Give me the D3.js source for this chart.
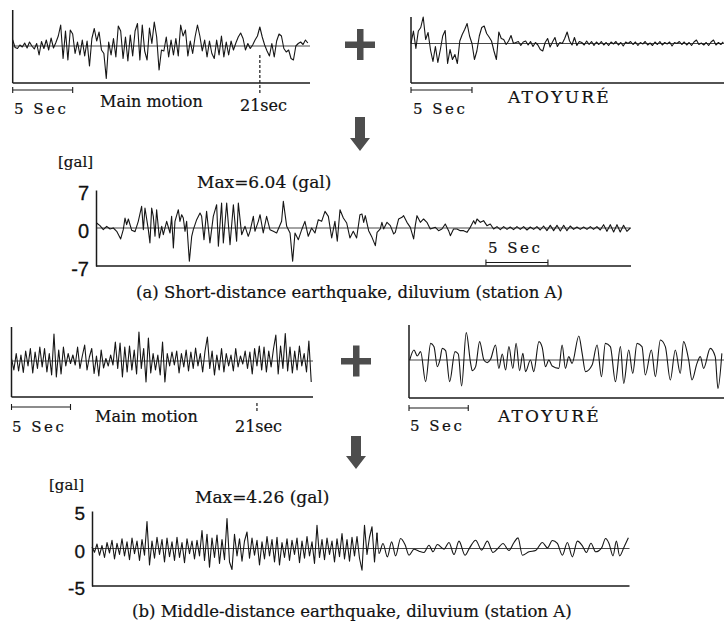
<!DOCTYPE html>
<html>
<head>
<meta charset="utf-8">
<script src="https://cdn.jsdelivr.net/npm/d3@7"></script>
<style>
  body { margin: 0; background: #fff; }
  text { font-family: "DejaVu Serif", serif; fill: #111; stroke: #111; stroke-width: 0.2; }
  .num { font-family: "Liberation Sans", Arial, sans-serif; stroke-width: 0.3; }
</style>
</head>
<body>
<div id="chart"></div>
<script>
var width = 724,
    height = 622;

// ---- data ----
// input records, sampled every 0.2 s (relative amplitude)
var sampleDt = 0.2;
var mainA = [1.2,-0.3,-0.5,0.2,-0.2,0.6,-0.4,0.8,0.0,-0.6,0.5,-1.8,0.9,-0.5,1.2,-0.8,1.6,-0.4,0.7,2.0,
  4.2,-2.5,3.0,-2.8,3.2,2.4,-1.5,0.8,-1.8,1.2,-2.0,1.0,-4.0,1.5,3.5,1.0,2.8,-0.8,-1.5,-6.5,
  0.8,-1.8,1.5,-2.2,4.0,3.0,-2.5,1.8,-3.0,2.2,-2.0,3.0,4.5,-2.8,4.2,-1.0,-2.8,3.6,0.5,4.8,
  1.8,-4.8,-0.8,-1.0,1.8,-2.2,1.2,-1.8,1.5,-2.0,4.2,2.0,3.2,-2.0,1.0,-1.5,1.8,4.2,2.0,-1.0,
  1.2,-2.2,1.0,-1.5,-2.5,1.2,-1.8,2.0,-2.2,0.8,-1.8,1.0,-0.8,0.6,1.8,2.6,1.5,-0.8,0.5,-0.5,
  0.2,1.2,2.0,3.8,1.8,0.2,-1.0,-2.0,0.5,-2.2,1.0,2.4,2.0,-0.5,-1.2,-0.8,-2.5,-2.8,0.0,0.5,
  0.8,0.3,1.2,0.6];
var atoyureA = [0,2.5,-1.0,2.5,3.2,5.3,0.8,2.2,-1.3,-3.6,-0.6,-3.8,-1.3,1.5,2.6,-4.0,-1.2,-3.2,-2.2,-4.0,
  0.5,1.8,2.8,4.0,1.5,0.0,-3.2,-1.5,1.5,3.2,3.5,2.0,1.3,0.5,-1.5,-3.2,2.3,1.0,0.8,-0.2,
  0.5,1.6,0.0,0.2,0.4,-0.4,0.3,0.5,-0.3,0.4,-0.6,0.2,-0.3,-1.2,-1.5,0.2,1.0,-0.7,0.3,1.2,
  -0.6,0.2,0.0,1.0,2.3,0.5,-0.3,1.2,-0.4,0.4,0.2,-0.3,0.5,-0.2,0.4,-0.4,0.3,-0.2,0.4,-0.3,
  0.2,-0.4,0.3,-0.1,0.4,-0.3,0.2,-0.5,0.3,0.0,0.4,-0.2,0.3,-0.4,0.2,-0.1,0.4,-0.3,0.1,-0.4,
  0.3,-0.2,0.4,-0.3,0.2,-0.1,0.3,-0.5,0.2,0.0,0.4,-0.2,0.3,-0.3,0.2,-0.4,0.3,0.7,-0.2,0.1,
  -0.3,0.2,-0.4,0.3,0.7,-0.3,0.2,-0.2,0.3];
var mainB = [0.5,-1.8,1.5,-2.0,1.2,-2.3,2.0,-1.0,2.5,-2.4,1.8,-1.5,2.8,-1.2,2.5,-2.2,1.5,-2.8,5.4,-3.2,
  2.2,-2.6,2.8,-1.0,1.5,-0.5,1.2,-0.8,2.8,-1.5,1.0,3.2,-1.8,0.8,2.5,-2.5,1.0,-3.0,2.2,-1.4,
  0.5,-1.0,1.2,-0.8,3.8,-1.5,3.6,-3.2,2.8,-2.2,3.0,-1.8,2.2,-2.6,5.8,-1.5,2.5,-4.2,4.6,-2.4,
  1.5,-1.8,1.2,-2.8,3.8,-4.2,1.5,-1.0,1.8,-0.8,2.0,-2.4,1.5,-1.2,2.2,-2.0,1.8,-1.5,2.6,-1.0,
  1.5,-2.2,2.0,4.8,-1.5,2.0,-2.8,1.2,-1.8,2.5,-2.2,1.5,-1.0,1.2,-2.0,2.5,-1.2,1.0,-0.6,2.0,
  -1.5,1.8,-2.6,2.5,-1.0,3.0,-1.8,2.8,-2.2,2.0,-1.2,2.4,5.2,-2.6,3.0,-1.5,5.5,-2.0,2.8,-2.4,
  2.0,-1.8,3.0,-1.0,1.5,-2.2,4.0,-4.2];
// smooth after-shock record (b): turning points, seconds / relative amplitude
var atoyureBTime = [0.06,0.42,0.70,0.98,1.40,1.83,2.11,2.39,2.61,2.81,3.09,3.43,3.88,4.16,4.44,4.83,5.20,5.34,5.62,5.96,
  6.32,6.60,6.88,7.30,7.58,7.87,8.15,8.43,8.76,9.04,9.33,9.61,9.83,10.25,10.53,10.96,11.24,11.52,11.80,12.08,
  12.64,12.92,13.20,13.48,13.76,14.33,14.61,14.89,15.45,15.87,16.24,16.57,16.99,17.42,17.84,18.12,18.54,18.88,19.24,19.66,
  19.94,20.45,20.79,21.21,21.63,22.05,22.47,22.89,23.17,23.60,23.88,24.30,24.58,24.86,25.42,25.84,26.07,26.40];
var atoyureBValue = [0,2.0,0.8,1.67,-4.33,3.33,2.67,-1.33,0,2.33,1.87,-4.33,1.67,1.2,-5.2,5.47,-0.67,-2.13,-1.33,3.67,
  0,-0.53,0.13,3.0,-1.67,1.2,-2.0,2.67,-1.67,3.33,-2.13,1.33,-2.33,0,-2.33,3.67,2.53,-1.33,0,-1.2,
  -1.67,3.0,-1.67,0.67,-0.67,4.8,1.33,-2.33,-1.0,3.0,-3.33,3.33,2.67,-4.33,2.67,-4.67,2.0,-2.67,3.33,2.67,
  -3.0,2.0,-3.33,4.0,2.67,-4.0,2.0,-2.67,3.67,0,-4.0,-0.67,0.67,-1.67,2.33,0.67,-5.67,1.33];
// combined record (a), gal
var combinedATime = [0.05,0.32,0.59,0.86,1.13,1.40,1.67,1.99,2.20,2.34,2.47,2.61,2.88,3.15,3.41,3.68,3.82,3.95,4.22,4.35,
  4.49,4.62,4.76,4.89,5.11,5.30,5.43,5.70,5.97,6.10,6.24,6.37,6.64,6.77,6.91,7.04,7.18,7.31,7.53,7.72,
  7.85,8.12,8.39,8.52,8.71,8.92,9.19,9.46,9.73,9.87,10.13,10.27,10.54,10.81,11.08,11.34,11.48,11.75,12.02,12.28,
  12.42,12.69,12.82,13.09,13.23,13.49,13.76,14.03,14.30,14.57,14.97,15.11,15.38,15.65,15.86,16.05,16.32,16.59,16.85,17.12,
  17.39,17.66,17.93,18.20,18.47,18.74,19.01,19.27,19.46,19.68,19.95,20.22,20.48,20.75,21.02,21.29,
  21.45,21.59,21.72,21.99,22.26,22.53,22.67,22.93,23.06,23.20,23.47,23.74,24.01,24.14,24.41,24.68,24.81,25.08,25.35,25.62,
  25.75,25.89,26.16,26.42,26.69,26.96,27.37,27.63,27.90,28.17,28.44,28.58,28.84,29.11,29.38,29.65,29.92,30.19,30.46,30.59,
  30.73,31.00,31.26,31.53,31.80,32.07,32.34,32.61,32.88,33.15,33.41,33.68,33.95,34.22,34.49,34.76,35.03,35.30,35.56,35.83,
  36.10,36.37,36.64,36.91,37.18,37.45,37.72,37.98,38.25,38.52,38.79,39.06,39.33,39.60,39.87,40.13,40.40,40.67,40.94,41.21,
  41.48,41.75,42.02,42.28,42.55,42.82,43.09];
var combinedAValue = [0.92,0.43,-0.31,0.31,-0.18,0,-0.61,-2.02,-0.31,1.84,0.61,1.66,-0.43,-0.67,1.23,3.99,-0.31,3.68,-0.31,-2.76,
  3.68,2.15,-1.53,3.37,-1.84,0.31,-1.23,1.23,-0.92,2.15,-3.68,1.23,3.37,1.23,2.45,1.84,-0.61,1.23,-6.13,-1.53,
  -0.31,1.53,2.76,2.15,-2.15,3.07,-2.76,2.15,4.29,-3.37,4.60,-2.76,4.60,-3.07,4.29,-2.45,4.60,-1.23,0.31,-1.53,
  -0.61,2.15,-0.61,1.23,2.45,-0.92,2.15,-0.31,-0.61,-0.92,1.23,4.91,0.31,-0.92,-6.13,-0.92,-2.15,-0.31,1.23,-1.53,
  0,-0.92,1.53,1.23,3.07,2.15,-1.84,1.23,-2.45,3.37,1.84,0.92,-1.84,-0.61,-1.84,2.45,
  2.58,1.04,2.27,-0.49,-1.72,-3.25,-0.80,-0.18,1.04,-0.18,1.04,0.43,-1.10,-0.80,1.66,1.96,2.27,1.04,0.12,-2.02,
  0.43,2.27,1.04,1.66,1.04,-0.18,0.12,-0.49,-0.18,0.74,-0.49,-1.41,-0.18,-0.18,-0.49,-0.49,-0.80,0.12,1.35,0.74,
  1.66,1.04,1.35,0.43,0.74,-0.18,0.25,-0.31,0.25,-0.25,0.18,-0.31,0.25,-0.25,0.25,-0.37,0.18,-0.25,0.25,-0.37,
  0.37,-0.49,0.49,-0.49,0.49,-0.55,0.49,-0.49,0.37,-0.25,0.18,-0.25,0.18,-0.25,0.25,-0.25,0.25,-0.37,0.61,-0.61,
  0.61,-0.74,0.61,-0.74,0.49,-0.61,0];
// combined record (b), gal: dense part every 0.2 s, then smooth tail turning points
var combinedBDense = [0.2,-0.5,0.6,-0.9,0.4,-1.2,0.8,-0.6,1.1,-1.4,0.7,-0.8,1.3,-1.0,0.9,-1.5,1.4,-0.7,1.0,-1.6,
  1.2,-0.9,3.6,-2.2,1.0,-1.3,1.5,-0.8,1.2,-1.8,1.4,-1.1,0.9,-1.6,1.5,-1.2,0.8,-1.9,1.3,-0.7,
  1.0,-1.4,1.1,-1.0,2.4,-1.6,1.9,-2.5,1.4,-1.2,1.8,-2.0,1.2,-1.5,4.0,-1.8,-2.8,1.9,-1.0,1.3,
  -1.7,1.0,2.2,-1.3,1.4,-0.9,1.1,-2.2,0.9,-1.4,1.6,-1.0,1.2,-1.8,1.5,-2.2,0.8,-1.2,1.3,-1.6,
  1.1,-0.8,1.4,-1.9,1.0,-1.3,1.6,-1.0,0.9,-2.0,3.1,-1.2,1.2,-1.5,1.4,-0.8,1.0,-1.8,1.3,-1.1,
  2.0,-1.4,1.2,-1.7,1.5,-1.0,1.6,-1.3,-2.9,3.1,-0.8,1.5,2.9,-1.8,2.1];
var combinedBTailTime = [22.96,23.28,23.63,23.97,24.29,24.69,25.04,25.36,25.76,26.16,26.56,26.96,27.28,27.63,28.16,28.56,28.96,29.36,29.84,30.21,
  30.69,31.17,31.63,32.08,32.51,32.88,33.36,33.76,34.08,34.43,34.96,35.49,36.03,36.43,36.83,37.23,37.63,38.03,38.43,38.83,
  39.23,39.55,39.92,40.29,40.77,41.09,41.36,41.68,41.95,42.21,42.56,42.91];
var combinedBTailValue = [-0.67,0.67,-1.11,0.89,-0.98,1.33,0.53,-0.89,-0.09,-0.36,-0.53,0.44,-0.44,0.53,-0.09,0.80,-0.80,0.98,-0.89,0.09,
  1.11,-0.22,0.98,-0.53,0.09,0.67,-0.27,0.80,1.42,-0.89,-0.44,-0.27,0.80,0.09,1.07,0.67,-0.89,0.80,-1.11,0.98,
  0.36,-0.53,0.71,-0.44,0.09,1.33,0.67,-0.98,0.98,-0.98,0.18,1.42];

var ticksA = [-7, 0, 7],
    ticksB = [-5, 0, 5];
var scaleBarSec = 5;
var scaleBarStartA = 31.45;   // 5 Sec bar inside combined (a)
var mainEndMarkA = 20.6,      // dashed "21sec" mark
    mainEndMarkB = 20.8;

function sampled(vals) { return vals.map(function (v, i) { return [i * sampleDt, v]; }); }
function paired(ts, vs) { return ts.map(function (t, i) { return [t, vs[i]]; }); }

var svg = d3.select('#chart').append('svg')
    .attr('width', width)
    .attr('height', height)
    .style('background', '#fff');

function hline(x1, x2, y, w, col) {
  svg.append('line').attr('x1', x1).attr('x2', x2).attr('y1', y).attr('y2', y)
    .attr('stroke', col || '#1a1a1a').attr('stroke-width', w);
}
function vline(x, y1, y2, w) {
  svg.append('line').attr('x1', x).attr('x2', x).attr('y1', y1).attr('y2', y2)
    .attr('stroke', '#1a1a1a').attr('stroke-width', w);
}
function label(x, y, s, size, cls, spacing) {
  var t = svg.append('text').attr('x', x).attr('y', y).text(s).style('font-size', size + 'px');
  if (cls) t.attr('class', cls);
  if (spacing) t.style('letter-spacing', spacing + 'px');
  return t;
}

// one trace panel
function panel(o) {
  var x = d3.scaleLinear().domain([0, o.tMax]).range([o.left, o.right]);
  var y = o.y || d3.scaleLinear().domain([-7, 7]).range([o.zero + 35, o.zero - 35]);

  hline(o.left, o.right, o.bottom, 1.6);
  hline(o.left, o.right, y(0), 0.9, '#333');

  if (o.ticks) {
    var ax = svg.append('g').attr('transform', 'translate(' + o.left + ',0)')
      .call(d3.axisLeft(y).tickValues(o.ticks).tickSize(0).tickSizeOuter(0).tickPadding(7)
        .tickFormat(function (d) { return String(d); }));
    ax.select('.domain').attr('stroke', '#1a1a1a').attr('stroke-width', 1.5);
    ax.selectAll('text').attr('class', 'num').attr('dy', '0.45em')
      .style('font-size', o.tickSize + 'px').attr('fill', '#111');
  } else {
    vline(o.left, o.top, o.bottom, 1.5);
  }

  o.traces.forEach(function (tr) {
    svg.append('path').datum(tr.data)
      .attr('fill', 'none')
      .attr('stroke', '#161616')
      .attr('stroke-width', 1.1)
      .attr('stroke-linejoin', 'round')
      .attr('d', d3.line()
        .x(function (d) { return x(d[0]); })
        .y(function (d) { return y(d[1]); })
        .curve(tr.curve || d3.curveLinear));
  });

  if (o.barY != null) {
    var b0 = x(o.barStart || 0), b1 = x((o.barStart || 0) + scaleBarSec);
    hline(b0, b1, o.barY, 1.1);
    vline(b0, o.barY - 3, o.barY + 3, 1.1);
    vline(b1, o.barY - 3, o.barY + 3, 1.1);
  }
  if (o.mark != null) {
    svg.append('line').attr('x1', x(o.mark)).attr('x2', x(o.mark))
      .attr('y1', o.markY[0]).attr('y2', o.markY[1])
      .attr('stroke', '#1a1a1a').attr('stroke-width', 1.2).attr('stroke-dasharray', '3,2');
  }
  return x;
}

function plus(cx, cy) {
  svg.append('rect').attr('x', cx - 15).attr('y', cy - 3).attr('width', 30).attr('height', 6.5).attr('fill', '#4d4d4d');
  svg.append('rect').attr('x', cx - 3).attr('y', cy - 15.5).attr('width', 6.5).attr('height', 31).attr('fill', '#4d4d4d');
}
function arrow(cx, y0, y1) {
  svg.append('path')
    .attr('d', 'M' + (cx - 5) + ',' + y0 + 'H' + (cx + 5) + 'V' + (y1 - 13) + 'H' + (cx + 10) +
      'L' + cx + ',' + y1 + 'L' + (cx - 10) + ',' + (y1 - 13) + 'H' + (cx - 5) + 'Z')
    .attr('fill', '#4d4d4d');
}

// ---------- (a) ----------
panel({ left: 12.7, right: 310, tMax: 24.78, zero: 46, top: 10, bottom: 83, barY: 90,
  mark: mainEndMarkA, markY: [55, 93], traces: [{ data: sampled(mainA) }] });
label(14, 114, '5 Sec', 15, null, 2.5);
label(100, 107, 'Main motion', 16);
label(240, 111, '21sec', 16);

plus(360, 44.5);

panel({ left: 411, right: 724, tMax: 25.66, zero: 43.5, top: 17, bottom: 83, barY: 90,
  traces: [{ data: sampled(atoyureA) }] });
label(413, 114, '5 Sec', 15, null, 2.5);
label(508, 103, 'ATOYURÉ', 17, null, 2.2);

arrow(360, 117, 151);

label(58, 167, '[gal]', 15);
label(197, 188, 'Max=6.04 (gal)', 17);
panel({ left: 96, right: 631, tMax: 43.15, bottom: 266,
  y: d3.scaleLinear().domain([-7, 7]).range([266, 190]), ticks: ticksA, tickSize: 20,
  barY: 262.5, barStart: scaleBarStartA,
  traces: [{ data: paired(combinedATime, combinedAValue) }] });
label(488, 253, '5 Sec', 15, null, 2.5);
label(136, 298, '(a)  Short-distance earthquake, diluvium (station A)', 16.5);

// ---------- (b) ----------
panel({ left: 11.5, right: 313, tMax: 25.55, zero: 361, top: 327, bottom: 397, barY: 407,
  mark: mainEndMarkB, markY: [403, 411], traces: [{ data: sampled(mainB) }] });
label(12, 432, '5 Sec', 15, null, 2.5);
label(95, 422, 'Main motion', 16);
label(235, 432, '21sec', 16);

plus(356, 361);

panel({ left: 409, right: 724, tMax: 26.58, zero: 360, top: 325, bottom: 398, barY: 408,
  traces: [{ data: paired(atoyureBTime, atoyureBValue), curve: d3.curveMonotoneX }] });
label(410, 431, '5 Sec', 15, null, 2.5);
label(498, 422, 'ATOYURÉ', 17, null, 2.2);

arrow(356, 436, 469);

label(49, 490, '[gal]', 15);
label(195, 503, 'Max=4.26 (gal)', 17);
var denseB = sampled(combinedBDense);
panel({ left: 92, right: 629.5, tMax: 43, bottom: 586,
  y: d3.scaleLinear().domain([-5, 5]).range([586, 511]), ticks: ticksB, tickSize: 19,
  traces: [
    { data: denseB },
    { data: [denseB[denseB.length - 1]].concat(paired(combinedBTailTime, combinedBTailValue)), curve: d3.curveMonotoneX }
  ] });
label(132, 617, '(b)  Middle-distance earthquake, diluvium (station A)', 16.5);
</script>
</body>
</html>
